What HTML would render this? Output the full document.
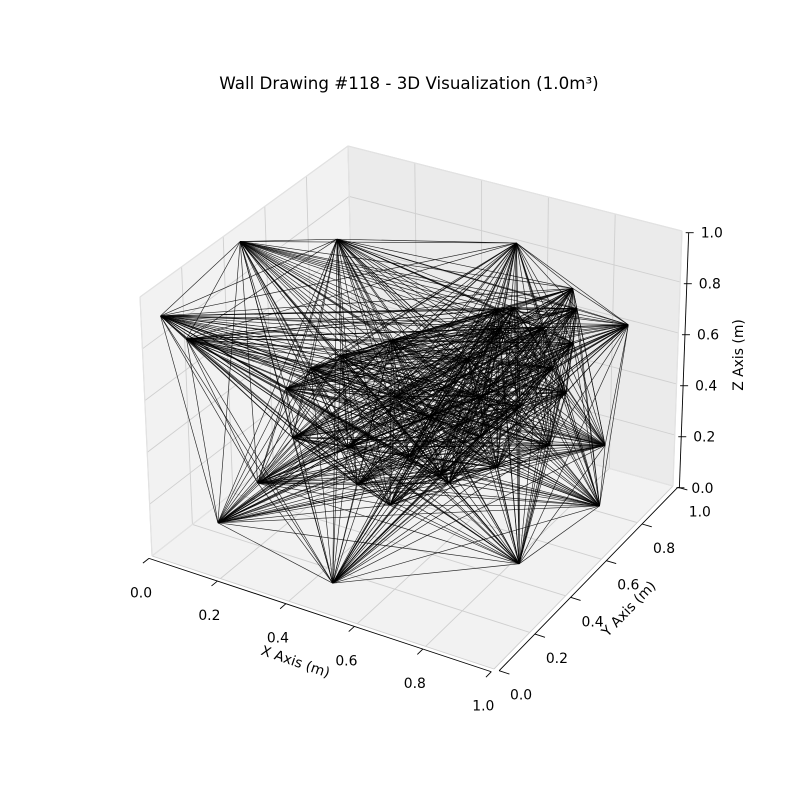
<!DOCTYPE html>
<html><head><meta charset="utf-8"><style>
html,body{margin:0;padding:0;background:#fff;}
svg{display:block;font-family:"DejaVu Sans","Liberation Sans",sans-serif;}
</style></head><body>
<svg id="chart" width="800" height="800" viewBox="0 0 800 800">
<rect width="800" height="800" fill="#fff"/>
<text x="409" y="89" text-anchor="middle" font-size="16.7">Wall Drawing #118 - 3D Visualization (1.0m³)</text>
<g id="panes"></g>
<g id="grid"></g>
<g id="axes"></g>
<g id="lines"></g>
<text x="0" y="0" transform="translate(294,666) rotate(19)" text-anchor="middle" font-size="13.9">X Axis (m)</text>
<text x="0" y="0" transform="translate(632,612) rotate(-46)" text-anchor="middle" font-size="13.9">Y Axis (m)</text>
<text x="0" y="0" transform="translate(743,355) rotate(-90)" text-anchor="middle" font-size="13.9">Z Axis (m)</text>
</svg>
<script>
// Point data (x, y, z in metres)
const xs = [0.02,0.05,0.25,0.655,0.835,0.99,0.10,0.12,0.45,0.85,0.90,0.92,0.48,0.59,0.66,0.23,0.19,0.29,0.76,0.78,0.65,0.17,0.64,0.45,0.79,
            0.72,0.77,0.58,0.51,0.61,0.50,0.34,0.73,0.69,0.55,0.39,0.26,0.83,0.43,0.61];
const ys = [0.06,0.40,0.54,0.75,0.73,0.75,0.05,0.13,0.14,0.42,0.77,0.76,0.39,0.51,0.64,0.33,0.37,0.48,0.83,0.83,0.66,0.25,0.69,0.48,0.69,
            0.63,0.69,0.63,0.55,0.64,0.46,0.42,0.81,0.71,0.53,0.38,0.38,0.76,0.50,0.65];
const zs = [0.90,1.00,1.00,1.00,0.90,0.80,0.85,0.10,0.00,0.05,0.05,0.30,0.15,0.20,0.20,0.35,0.50,0.60,0.40,0.60,0.80,0.20,0.70,0.50,0.30,
            0.85,0.75,0.60,0.40,0.30,0.30,0.30,0.50,0.40,0.20,0.20,0.60,0.80,0.70,0.45];
const ticks = [0,0.2,0.4,0.6,0.8,1.0];
const tickLabels = ["0.0","0.2","0.4","0.6","0.8","1.0"];

// projection: trilinear between screen corners of the unit cube
const C = {
  c000:[152,556], c100:[494,669], c110:[673,486], c010:[354,398],
  c001:[140,297], c101:[484,404], c111:[682,231], c011:[348,146]
};
function P(x,y,z){
  const w = (a,b,c)=>(a?x:1-x)*(b?y:1-y)*(c?z:1-z);
  let sx=0, sy=0;
  for (const a of [0,1]) for (const b of [0,1]) for (const c of [0,1]){
    const k=C['c'+a+b+c], ww=w(a,b,c); sx+=k[0]*ww; sy+=k[1]*ww;
  }
  return [sx,sy];
}
const NS='http://www.w3.org/2000/svg';
function mk(tag, attrs, parent){
  const e=document.createElementNS(NS,tag);
  for (const k in attrs) e.setAttribute(k, attrs[k]);
  parent.appendChild(e); return e;
}
function poly(pts){return pts.map(p=>p[0].toFixed(1)+','+p[1].toFixed(1)).join(' ');}

const panes=document.getElementById('panes');
let e;
e=mk('polygon',{points:poly([P(0,0,0),P(1,0,0),P(1,1,0),P(0,1,0)]),fill:'#f2f2f2'},panes);


e=mk('polygon',{points:poly([P(0,0,0),P(0,1,0),P(0,1,1),P(0,0,1)]),fill:'#f2f2f2'},panes);


e=mk('polygon',{points:poly([P(0,1,0),P(1,1,0),P(1,1,1),P(0,1,1)]),fill:'#ebebeb'},panes);



const grid=document.getElementById('grid');
function gl(a,b,name){
  const l=mk('line',{x1:a[0],y1:a[1],x2:b[0],y2:b[1],stroke:'#cfcfcf','stroke-width':0.9},grid);
  
  
}
ticks.forEach(t=>{
  gl(P(t,0,0),P(t,1,0),'floor-grid-x');
  gl(P(0,t,0),P(1,t,0),'floor-grid-y');
  gl(P(0,t,0),P(0,t,1),'left-grid-y');
  gl(P(0,0,t),P(0,1,t),'left-grid-z');
  gl(P(t,1,0),P(t,1,1),'back-grid-x');
  gl(P(0,1,t),P(1,1,t),'back-grid-z');
});
[[P(0,0,0),P(0,0,1)],[P(0,1,0),P(0,1,1)],[P(0,0,1),P(0,1,1)],[P(0,1,1),P(1,1,1)],[P(1,1,0),P(1,1,1)],[P(0,0,0),P(0,1,0)],[P(0,1,0),P(1,1,0)]].forEach(s=>{
  const l=mk('line',{x1:s[0][0],y1:s[0][1],x2:s[1][0],y2:s[1][1],stroke:'#e2e2e2','stroke-width':1.2},grid);
  
  
});

const axes=document.getElementById('axes');
function al(a,b,name){
  const l=mk('line',{x1:a[0],y1:a[1],x2:b[0],y2:b[1],stroke:'#000','stroke-width':0.9},axes);
  
  
}
function tx(p,s,name,anchor){
  const t=mk('text',{x:p[0].toFixed(1),y:p[1].toFixed(1),'font-size':13.9,'text-anchor':anchor||'middle'},axes);
  t.textContent=s;
  
  
}
al(P(0,-0.015,0),P(1,-0.015,0),'x-axis-line');
ticks.forEach((t,i)=>{
  const a=P(t,-0.015,0), b=P(t,-0.045,0);
  al(a,b,'x-tick');
  tx([a[0]-8,a[1]+39],tickLabels[i],'x-tick-label');
});
al(P(1.015,0,0),P(1.015,1,0),'y-axis-line');
ticks.forEach((t,i)=>{
  const a=P(1.015,t,0), b=P(1.045,t,0);
  al(a,b,'y-tick');
  tx([a[0]+22,a[1]+29],tickLabels[i],'y-tick-label');
});
al(P(1.02,1,0),P(1.02,1,1),'z-axis-line');
ticks.forEach((t,i)=>{
  const a=P(1.02,1,t);
  al([a[0]-3,a[1]],[a[0]+5,a[1]],'z-tick');
  tx([a[0]+12,a[1]+5],tickLabels[i],'z-tick-label','start');
});

const lg=document.getElementById('lines');
const pts=xs.map((x,i)=>P(x,ys[i],zs[i]));
for (let i=0;i<pts.length;i++){
  for (let j=i+1;j<pts.length;j++){
    const l=mk('line',{x1:pts[i][0].toFixed(1),y1:pts[i][1].toFixed(1),x2:pts[j][0].toFixed(1),y2:pts[j][1].toFixed(1),stroke:'#000','stroke-width':0.65,'stroke-opacity':0.85},lg);
    
    
  }
}
</script>
</body></html>
